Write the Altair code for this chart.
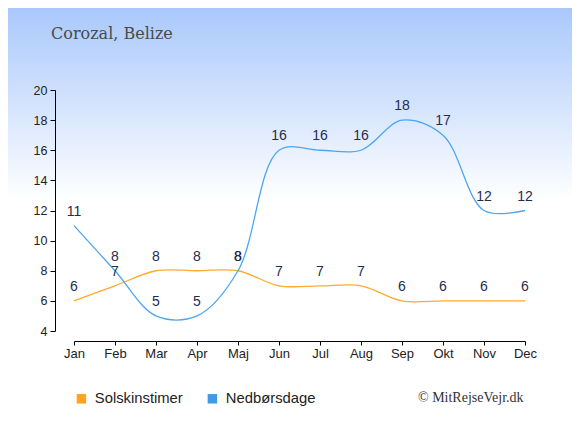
import altair as alt
import pandas as pd

months = ["Jan", "Feb", "Mar", "Apr", "Maj", "Jun", "Jul", "Aug", "Sep", "Okt", "Nov", "Dec"]
sun_hours = [6, 7, 8, 8, 8, 7, 7, 7, 6, 6, 6, 6]
rain_days = [11, 8, 5, 5, 8, 16, 16, 16, 18, 17, 12, 12]
series_names = ["Solskinstimer", "Nedbørsdage"]
series_colors = ["#ffa31a", "#3d9be9"]
line_colors = ["#ffab2e", "#4da6ee"]
y_ticks = [4, 6, 8, 10, 12, 14, 16, 18, 20]
title_text = "Corozal, Belize"
credit_text = "© MitRejseVejr.dk"

rows = []
for name, vals in zip(series_names, [sun_hours, rain_days]):
    for m, v in zip(months, vals):
        rows.append({"month": m, "value": v, "series": name})
df = pd.DataFrame(rows)

W, H = 451, 241
PL, PT, PR, PB = 66, 82, 47, 96

x = alt.X(
    "month:N", sort=months,
    scale=alt.Scale(type="point", padding=0),
    axis=alt.Axis(title=None, labelAngle=0, offset=10, tickSize=4, labelPadding=2,
                  labelFontSize=13, labelFont="Liberation Sans", domainColor="#000",
                  tickColor="#000", labelColor="#222", grid=False, zindex=1),
)
y = alt.Y(
    "value:Q",
    scale=alt.Scale(domain=[4, 20], nice=False, zero=False),
    axis=alt.Axis(title=None, values=y_ticks, offset=19, tickSize=5, labelPadding=3,
                  labelFontSize=12.5, labelFont="Liberation Sans", domainColor="#000",
                  tickColor="#000", labelColor="#222", grid=False, zindex=1),
)

bg = alt.Chart(pd.DataFrame({"k": [0]})).mark_rect(
    fill=alt.Gradient(
        gradient="linear",
        stops=[alt.GradientStop(offset=0, color="#a9c8fb"),
               alt.GradientStop(offset=0.46, color="#ffffff"),
               alt.GradientStop(offset=1, color="#ffffff")],
        x1=0, x2=0, y1=0, y2=1,
    )
).encode(x=alt.value(-PL), x2=alt.value(W + PR), y=alt.value(-PT), y2=alt.value(H + PB))

lines = alt.Chart(df).mark_line(interpolate="catmull-rom", strokeWidth=1.3).encode(
    x=x, y=y,
    stroke=alt.Stroke("series:N", scale=alt.Scale(domain=series_names, range=line_colors),
                      legend=None),
)

labels = alt.Chart(df).mark_text(
    dy=-14, fontSize=14, font="Liberation Sans", color="#1f2d4f", baseline="middle"
).encode(x=x, y=y, text="value:Q")

legend_layer = alt.Chart(df).mark_point(filled=True, shape="square", size=0).encode(
    x=x, y=y,
    fill=alt.Fill(
        "series:N", scale=alt.Scale(domain=series_names, range=series_colors),
        legend=alt.Legend(
            title=None, orient="none", legendX=0, legendY=301, direction="horizontal",
            symbolType="square", symbolSize=90, symbolStrokeWidth=0, symbolOpacity=1,
            labelFontSize=14.8, labelFont="Liberation Sans", labelColor="#222",
            labelOffset=6, columnPadding=22, padding=0, zindex=1,
        ),
    ),
)

credit = alt.Chart(pd.DataFrame({"t": [credit_text]})).mark_text(
    align="left", baseline="middle", font="Liberation Serif", fontSize=14, color="#333"
).encode(x=alt.value(344), y=alt.value(308), text="t:N")

title = alt.Chart(pd.DataFrame({"t": [title_text]})).mark_text(
    align="left", baseline="alphabetic", font="DejaVu Serif", fontSize=16, color="#4a4a4a"
).encode(x=alt.value(-23), y=alt.value(-51), text="t:N")

chart = alt.layer(bg, lines, labels, legend_layer, credit, title).properties(
    width=W, height=H,
    autosize=alt.AutoSizeParams(type="none"),
    padding={"left": PL, "top": PT, "right": PR, "bottom": PB},
    background="white",
).resolve_scale(stroke="independent", fill="independent").configure_view(stroke=None)

chart.save("out.html", embed_options={"renderer": "svg", "actions": False})
